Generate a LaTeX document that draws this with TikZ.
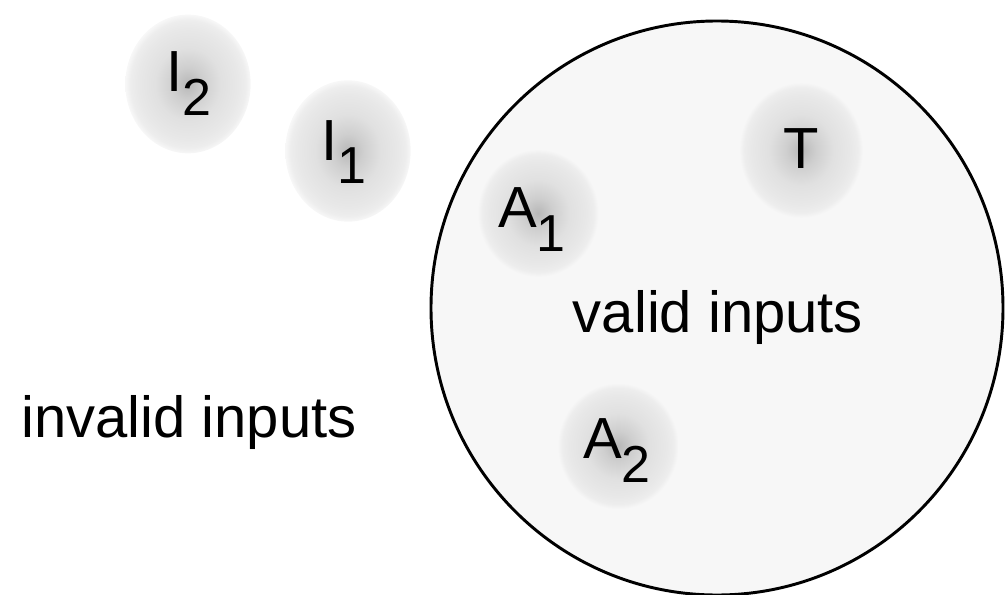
\documentclass[tikz,border=0pt]{standalone}
\usepackage{fontspec}
\setmainfont{Liberation Sans}
\usetikzlibrary{shapes.geometric}
\pgfdeclareradialshading{blobshade}{\pgfpoint{0cm}{0cm}}{color(0bp)=(black!28); color(6bp)=(black!19); color(13bp)=(black!12); color(20bp)=(black!9); color(23bp)=(black!7); color(25bp)=(black!3); color(50bp)=(black!3)}
\newcommand{\biglab}[2]{{\fontsize{43.5}{50}\selectfont #1}\ifx&#2&\else\raisebox{-18pt}{\fontsize{39}{44}\selectfont #2}\fi}
\tikzset{
  blob/.style={ellipse, inner sep=0pt, shading=blobshade, minimum width=93pt, minimum height=102pt},
  blobtext/.style={anchor=base, inner sep=0pt},
  bigtext/.style={anchor=base, inner sep=0pt, font=\fontsize{43.5}{50}\selectfont},
  setcircle/.style={ellipse, draw=black, line width=2.2pt, fill=black!3, inner sep=0pt, minimum width=429pt, minimum height=430.5pt}
}
\begin{document}
\begin{tikzpicture}[x=0.75pt, y=0.75pt]
\useasboundingbox (0,0) rectangle (1006,594);
\node[setcircle] (valid) at (717,286) {};
\node[blob, minimum width=94pt, minimum height=104pt] (i2) at (188,510) {};
\node[blob, minimum width=94pt, minimum height=106pt] (i1) at (348,443) {};
\node[blob, minimum width=91pt, minimum height=96pt] (a1) at (538,381) {};
\node[blob, minimum width=91pt, minimum height=95pt] (a2) at (618,148) {};
\node[blob, minimum width=93pt, minimum height=102pt] (t) at (801,444) {};
\node[blobtext] (li2) at (189,502) {\biglab{I}{2}};
\node[blobtext] (li1) at (344,434) {\biglab{I}{1}};
\node[blobtext] (la1) at (532,367) {\biglab{A}{1}};
\node[blobtext] (la2) at (617,136) {\biglab{A}{2}};
\node[blobtext] (lt) at (801,426) {\biglab{T}{}};
\node[bigtext] (validtext) at (718,262) {valid inputs};
\node[bigtext] (invalidtext) at (189,157) {invalid inputs};
\end{tikzpicture}
\end{document}
